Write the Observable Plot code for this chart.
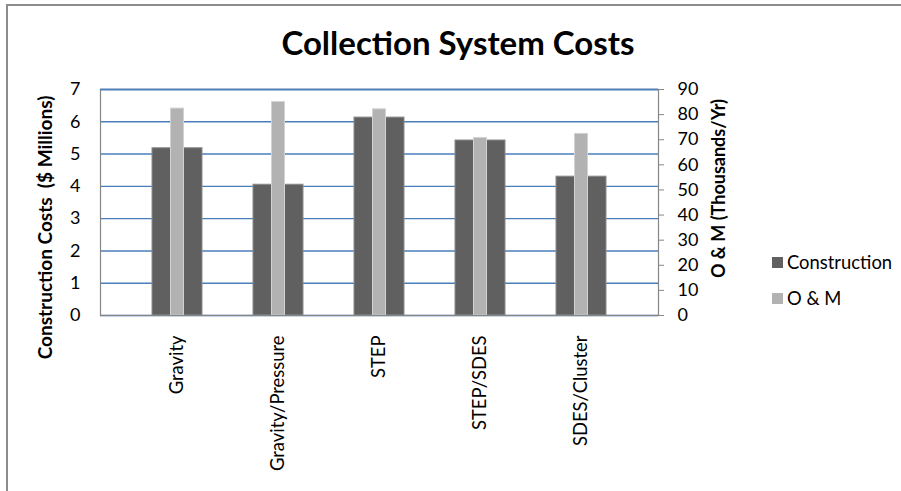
<!DOCTYPE html>
<html><head><meta charset="utf-8">
<script src="https://cdn.jsdelivr.net/npm/d3@7"></script>
<script src="https://cdn.jsdelivr.net/npm/@observablehq/plot@0.6"></script>
<style>
body{margin:0;background:#fff;overflow:hidden;font-family:Lato,"Open Sans",sans-serif;}
#wrap{position:relative;width:901px;height:491px;overflow:hidden;}
#border{position:absolute;left:6px;top:4px;width:1000px;height:1000px;border-left:2px solid #8c8c8c;border-top:2px solid #8c8c8c;}
#chart{position:absolute;left:0;top:0;}
#title{position:absolute;left:458px;top:26px;transform:translateX(-50%);font-size:33px;line-height:33px;font-weight:bold;white-space:nowrap;color:#000;}
.leg{position:absolute;left:772px;display:flex;align-items:center;font-size:18.4px;line-height:20px;color:#000;}
.sw{width:11px;height:11px;margin-right:4px;}
</style></head>
<body>
<div id="wrap">
<div id="border"></div>
<div id="chart"></div>
<div id="title">Collection System Costs</div>
<div class="leg" style="top:252px"><div class="sw" style="background:#606060"></div>Construction</div>
<div class="leg" style="top:288px"><div class="sw" style="background:#b2b2b2"></div>O &amp; M</div>
</div>
<script>
const categories = ["Gravity", "Gravity/Pressure", "STEP", "STEP/SDES", "SDES/Cluster"];
const construction = [5.18, 4.05, 6.13, 5.42, 4.3];
const om = [82.4, 85, 82.1, 70.7, 72.3];
const leftTicks = [0, 1, 2, 3, 4, 5, 6, 7];
const rightTicks = [0, 10, 20, 30, 40, 50, 60, 70, 80, 90];
const leftMax = 7, rightMax = 90;
const leftLabel = "Construction Costs \u00a0($ Millions)";
const rightLabel = "O & M (Thousands/Yr)";

const toLeft = v => v * leftMax / rightMax;
const data = categories.map((c, i) => ({category: c, construction: construction[i], om: toLeft(om[i])}));

const chart = Plot.plot({
  width: 901, height: 491,
  marginLeft: 100, marginRight: 243, marginTop: 89, marginBottom: 176,
  style: {fontFamily: "Lato, 'Open Sans', sans-serif", fontSize: "18px", color: "#000", background: "transparent"},
  x: {domain: categories, padding: 0.507, align: 0.5},
  y: {domain: [0, leftMax]},
  marks: [
    Plot.gridY(leftTicks, {stroke: "#4a7ebb", strokeOpacity: 1, strokeWidth: 1.4}),
    Plot.barY(data, {x: "category", y: "construction", fill: "#606060", stroke: "#8a8a8a", strokeWidth: 1}),
    Plot.barY(data, {x: "category", y: "om", fill: "#b2b2b2", stroke: "#d2d2d2", strokeWidth: 1, insetLeft: 18.5, insetRight: 18.5}),
    Plot.frame({stroke: "#868686", strokeWidth: 1.2}),
    Plot.gridY([leftMax], {stroke: "#4a7ebb", strokeOpacity: 1, strokeWidth: 1.4}),
    Plot.axisY(leftTicks, {anchor: "left", tickSize: 0, tickPadding: 20, label: null}),
    Plot.axisY(rightTicks.map(toLeft), {anchor: "right", tickSize: 5, tickPadding: 14, stroke: "#868686", label: null,
      tickFormat: d => String(Math.round(d * rightMax / leftMax))}),
    Plot.axisX({tickRotate: -90, tickSize: 0, tickPadding: 20, label: null, fontSize: 18.4}),
    Plot.text([leftLabel], {frameAnchor: "left", textAnchor: "middle", rotate: -90, dx: -55, dy: 25, fontWeight: "bold", fontSize: 19}),
    Plot.text([rightLabel], {frameAnchor: "right", textAnchor: "middle", rotate: -90, dx: 61, dy: -14, fontWeight: "bold", fontSize: 18})
  ]
});
document.getElementById("chart").appendChild(chart);
</script>
</body></html>
